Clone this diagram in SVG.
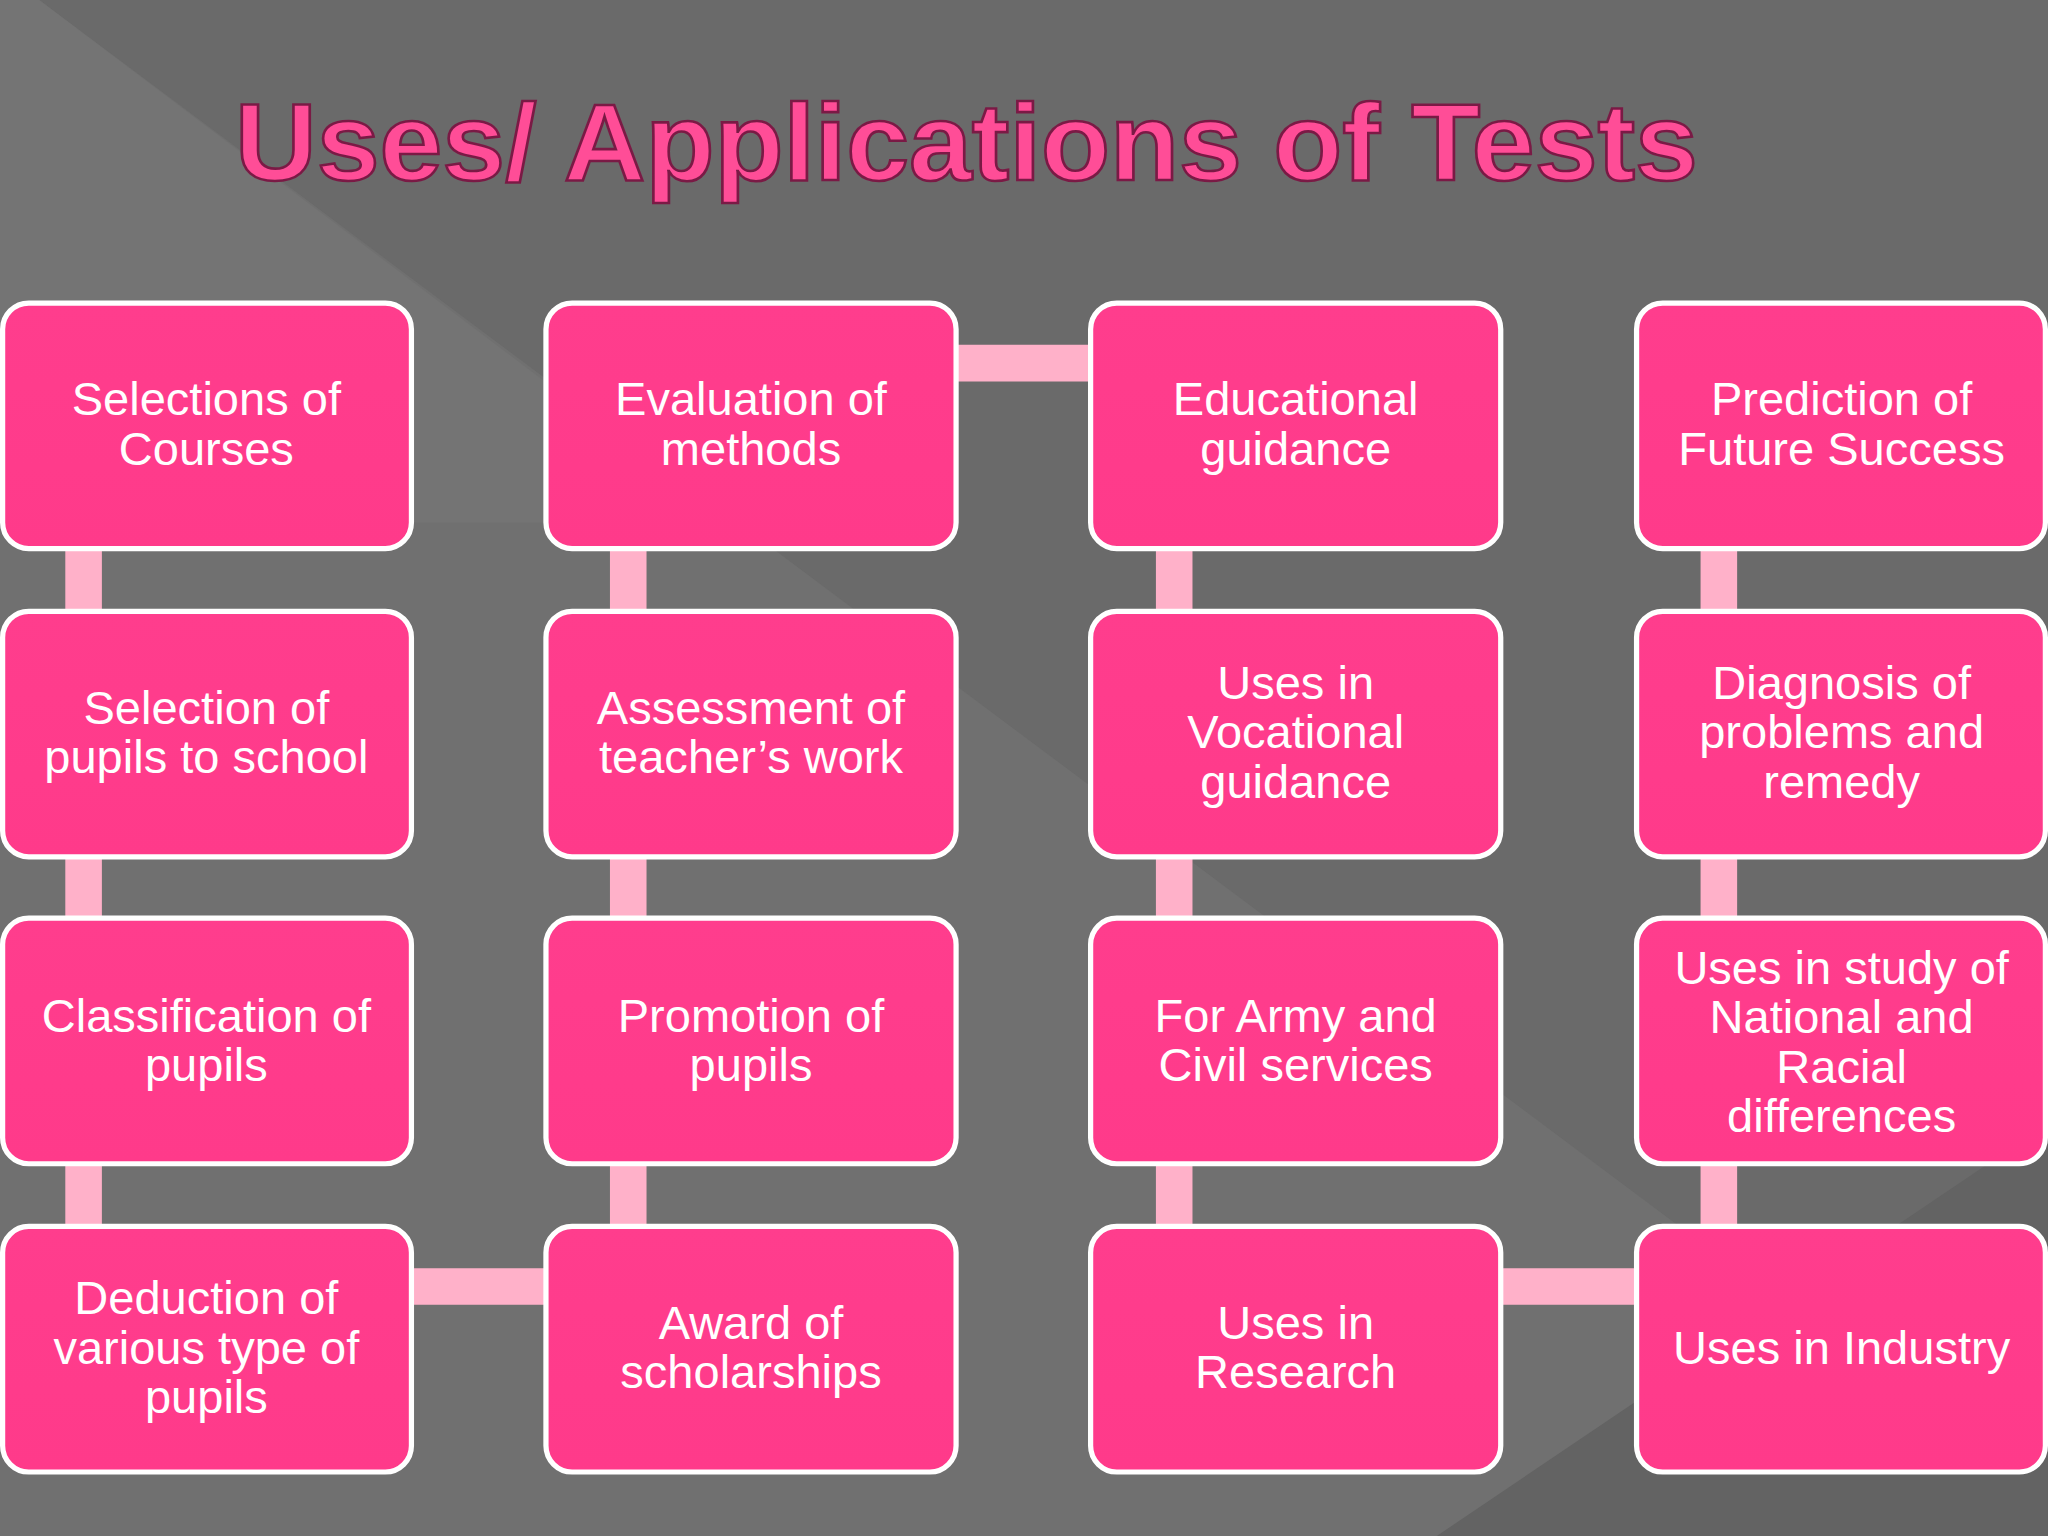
<svg xmlns="http://www.w3.org/2000/svg" width="2048" height="1536" viewBox="0 0 2048 1536">
<defs>
<linearGradient id="g" x1="0" y1="0" x2="0" y2="1"><stop offset="0" stop-color="#FF3D8D"/><stop offset="1" stop-color="#FF3A8A"/></linearGradient>
<style>
.b{fill:url(#g);stroke:#fff;stroke-width:4}
.t{font-family:"Liberation Sans",Arial,sans-serif;font-size:36px;fill:#fff;text-anchor:middle}
.c{stroke:#FFB1C9;stroke-width:28;fill:none}
</style>
</defs>
<g transform="scale(1.30612)">
<rect width="1568" height="1176" fill="#6a6a6a"/>
<polygon points="0,0 30,0 1568,1150 1568,1176 0,1176" fill="#707070"/>
<polygon points="0,0 30,0 560,400 0,400" fill="#747474"/>
<polygon points="1100,1176 1568,860 1568,1176" fill="#636363"/>
<text x="180" y="138" textLength="1120" lengthAdjust="spacingAndGlyphs" font-family="Liberation Sans,Arial,sans-serif" font-weight="bold" font-size="84" fill="#FF4D97" stroke="#7a1a45" stroke-width="2">Uses/ Applications of Tests</text>
<g id="connectors">
<path class="c" d="M64 420V939M481 420V939M899 420V939M1316 420V939M732 278H835M315 985H418M1149 985H1253"/>
</g>
<g id="n1"><rect class="b" x="2" y="232" width="313" height="188" rx="20"/><text class="t" x="158" y="318">Selections of</text><text class="t" x="158" y="356">Courses</text></g>
<g id="n2"><rect class="b" x="418" y="232" width="314" height="188" rx="20"/><text class="t" x="575" y="318">Evaluation of</text><text class="t" x="575" y="356">methods</text></g>
<g id="n3"><rect class="b" x="835" y="232" width="314" height="188" rx="20"/><text class="t" x="992" y="318">Educational</text><text class="t" x="992" y="356">guidance</text></g>
<g id="n4"><rect class="b" x="1253" y="232" width="313" height="188" rx="20"/><text class="t" x="1410" y="318">Prediction of</text><text class="t" x="1410" y="356">Future Success</text></g>
<g id="n5"><rect class="b" x="2" y="468" width="313" height="188" rx="20"/><text class="t" x="158" y="554">Selection of</text><text class="t" x="158" y="592">pupils to school</text></g>
<g id="n6"><rect class="b" x="418" y="468" width="314" height="188" rx="20"/><text class="t" x="575" y="554">Assessment of</text><text class="t" x="575" y="592">teacher’s work</text></g>
<g id="n7"><rect class="b" x="835" y="468" width="314" height="188" rx="20"/><text class="t" x="992" y="535">Uses in</text><text class="t" x="992" y="573">Vocational</text><text class="t" x="992" y="611">guidance</text></g>
<g id="n8"><rect class="b" x="1253" y="468" width="313" height="188" rx="20"/><text class="t" x="1410" y="535">Diagnosis of</text><text class="t" x="1410" y="573">problems and</text><text class="t" x="1410" y="611">remedy</text></g>
<g id="n9"><rect class="b" x="2" y="703" width="313" height="188" rx="20"/><text class="t" x="158" y="790">Classification of</text><text class="t" x="158" y="828">pupils</text></g>
<g id="n10"><rect class="b" x="418" y="703" width="314" height="188" rx="20"/><text class="t" x="575" y="790">Promotion of</text><text class="t" x="575" y="828">pupils</text></g>
<g id="n11"><rect class="b" x="835" y="703" width="314" height="188" rx="20"/><text class="t" x="992" y="790">For Army and</text><text class="t" x="992" y="828">Civil services</text></g>
<g id="n12"><rect class="b" x="1253" y="703" width="313" height="188" rx="20"/><text class="t" x="1410" y="753">Uses in study of</text><text class="t" x="1410" y="791">National and</text><text class="t" x="1410" y="829">Racial</text><text class="t" x="1410" y="867">differences</text></g>
<g id="n13"><rect class="b" x="2" y="939" width="313" height="188" rx="20"/><text class="t" x="158" y="1006">Deduction of</text><text class="t" x="158" y="1044">various type of</text><text class="t" x="158" y="1082">pupils</text></g>
<g id="n14"><rect class="b" x="418" y="939" width="314" height="188" rx="20"/><text class="t" x="575" y="1025">Award of</text><text class="t" x="575" y="1063">scholarships</text></g>
<g id="n15"><rect class="b" x="835" y="939" width="314" height="188" rx="20"/><text class="t" x="992" y="1025">Uses in</text><text class="t" x="992" y="1063">Research</text></g>
<g id="n16"><rect class="b" x="1253" y="939" width="313" height="188" rx="20"/><text class="t" x="1410" y="1044">Uses in Industry</text></g>
</g>
</svg>
